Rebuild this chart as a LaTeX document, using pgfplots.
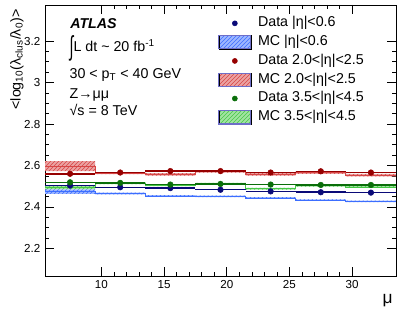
\documentclass[border=0pt]{standalone}
\usepackage{fontspec}
\setmainfont{Liberation Sans}
\usepackage{pgfplots}
\usepackage{pgfplotstable}
\pgfplotsset{compat=1.18}
\usepgfplotslibrary{fillbetween}
\usetikzlibrary{patterns}

\definecolor{datab}{RGB}{10,10,120}
\definecolor{datar}{RGB}{150,0,0}
\definecolor{datag}{RGB}{10,110,10}
\definecolor{mcb}{RGB}{60,110,255}
\definecolor{mcr}{RGB}{215,70,70}
\definecolor{mcg}{RGB}{70,200,70}
\definecolor{legbox}{RGB}{110,110,200}

% data: bin centre, mean
\pgfplotstableread{
x    y
7.5  2.503
11.5 2.495
15.5 2.491
19.5 2.483
23.5 2.475
27.5 2.471
31.5 2.469
}\dataB
\pgfplotstableread{
x    y
7.5  2.560
11.5 2.566
15.5 2.573
19.5 2.573
23.5 2.566
27.5 2.572
31.5 2.566
}\dataR
\pgfplotstableread{
x    y
7.5  2.519
11.5 2.516
15.5 2.508
19.5 2.511
23.5 2.508
27.5 2.506
31.5 2.506
}\dataG

% MC: lower bin edge, mean, error (last row closes the last bin)
\pgfplotstableread{
xlo  y     e
5.5  2.474 0.011
9.5  2.465 0.004
13.5 2.453 0.004
17.5 2.451 0.004
21.5 2.443 0.004
25.5 2.433 0.004
29.5 2.427 0.004
33.5 2.427 0.004
}\mcB
\pgfplotstableread{
xlo  y     e
5.5  2.597 0.024
9.5  2.563 0.005
13.5 2.557 0.006
17.5 2.571 0.005
21.5 2.557 0.006
25.5 2.566 0.006
29.5 2.554 0.006
33.5 2.554 0.006
}\mcR
\pgfplotstableread{
xlo  y     e
5.5  2.494 0.008
9.5  2.514 0.004
13.5 2.505 0.004
17.5 2.512 0.004
21.5 2.488 0.004
25.5 2.502 0.004
29.5 2.496 0.004
33.5 2.496 0.004
}\mcG

\pgfplotsset{
  mcband/.style={draw=none, fill=#1!50,
    postaction={pattern=north east lines, pattern color=#1}},
  datapts/.style={only marks, mark=*, mark size=2.1pt, color=#1,
    error bars/x dir=both, error bars/x fixed=2,
    error bars/error bar style={line width=1.1pt, color=#1},
    error bars/error mark=none},
}

\begin{document}
\begin{tikzpicture}
\begin{axis}[
  at={(33.75pt,36pt)}, anchor=south west,
  width=263.25pt, height=203.25pt, scale only axis,
  xmin=5.5, xmax=33.5, ymin=2.067, ymax=3.374,
  xtick={10,15,20,25,30}, ytick={2.2,2.4,2.6,2.8,3,3.2},
  minor x tick num=4, minor y tick num=3,
  major tick length=6.5pt, minor tick length=3.3pt,
  tick style={black, line width=0.5pt},
  axis line style={line width=0.6pt},
  ticklabel style={font=\fontsize{8.7}{10}\selectfont},
  /pgf/number format/assume math mode=true,
  legend style={at={(axis description cs:0.493,0.968)}, anchor=north west,
    draw=none, fill=none, inner sep=0pt, row sep=0pt, column sep=5pt,
    font=\fontsize{10.7}{12}\selectfont,
    nodes={inner sep=0pt, text height=9.6pt, text depth=4.5pt}},
  legend cell align=left,
]
\addlegendimage{legend image code/.code={\fill[datab] (12pt,0pt) circle (1.9pt);}}
\addlegendentry{Data |η|<0.6}
\addlegendimage{legend image code/.code={\fill[mcb!50] (0pt,-5pt) rectangle (24pt,5pt);
  \fill[pattern=north east lines, pattern color=mcb] (0pt,-5pt) rectangle (24pt,5pt);
  \draw[legbox, line width=0.8pt] (0pt,-5pt) rectangle (24pt,5pt);}}
\addlegendentry{MC |η|<0.6}
\addlegendimage{legend image code/.code={\fill[datar] (12pt,0pt) circle (1.9pt);}}
\addlegendentry{Data 2.0<|η|<2.5}
\addlegendimage{legend image code/.code={\fill[mcr!50] (0pt,-5pt) rectangle (24pt,5pt);
  \fill[pattern=north east lines, pattern color=mcr] (0pt,-5pt) rectangle (24pt,5pt);
  \draw[legbox, line width=0.8pt] (0pt,-5pt) rectangle (24pt,5pt);}}
\addlegendentry{MC 2.0<|η|<2.5}
\addlegendimage{legend image code/.code={\fill[datag] (12pt,0pt) circle (1.9pt);}}
\addlegendentry{Data 3.5<|η|<4.5}
\addlegendimage{legend image code/.code={\fill[mcg!50] (0pt,-5pt) rectangle (24pt,5pt);
  \fill[pattern=north east lines, pattern color=mcg] (0pt,-5pt) rectangle (24pt,5pt);
  \draw[legbox, line width=0.8pt] (0pt,-5pt) rectangle (24pt,5pt);}}
\addlegendentry{MC 3.5<|η|<4.5}

% MC bands
\addplot[name path=bu, draw=none, const plot, forget plot] table[x=xlo, y expr=\thisrow{y}+\thisrow{e}] {\mcB};
\addplot[name path=bl, draw=none, const plot, forget plot] table[x=xlo, y expr=\thisrow{y}-\thisrow{e}] {\mcB};
\addplot[mcband=mcb, forget plot] fill between[of=bu and bl];
\addplot[const plot, mcb, line width=0.6pt, forget plot] table[x=xlo, y=y] {\mcB};

\addplot[name path=ru, draw=none, const plot, forget plot] table[x=xlo, y expr=\thisrow{y}+\thisrow{e}] {\mcR};
\addplot[name path=rl, draw=none, const plot, forget plot] table[x=xlo, y expr=\thisrow{y}-\thisrow{e}] {\mcR};
\addplot[mcband=mcr, forget plot] fill between[of=ru and rl];
\addplot[const plot, mcr, line width=0.6pt, forget plot] table[x=xlo, y=y] {\mcR};

\addplot[name path=gu, draw=none, const plot, forget plot] table[x=xlo, y expr=\thisrow{y}+\thisrow{e}] {\mcG};
\addplot[name path=gl, draw=none, const plot, forget plot] table[x=xlo, y expr=\thisrow{y}-\thisrow{e}] {\mcG};
\addplot[mcband=mcg, forget plot] fill between[of=gu and gl];
\addplot[const plot, mcg, line width=0.6pt, forget plot] table[x=xlo, y=y] {\mcG};

% data
\addplot[forget plot, datapts=datab] table[x=x, y=y] {\dataB};
\addplot[forget plot, datapts=datar] table[x=x, y=y] {\dataR};
\addplot[forget plot, datapts=datag] table[x=x, y=y] {\dataG};
\end{axis}

\begin{scope}[font=\fontsize{10.7}{12}\selectfont]
\node[anchor=base west, inner sep=0pt] at (52.5pt,221.25pt) {\bfseries\itshape ATLAS};
\node[anchor=base west, inner sep=0pt] at (52pt,204.2pt) {\raisebox{-3pt}{\scalebox{1}[1.9]{∫}}L dt \textasciitilde{} 20 fb\textsuperscript{-1}};
\node[anchor=base west, inner sep=0pt] at (52pt,184.3pt) {30 < p\textsubscript{T} < 40 GeV};
\node[anchor=base west, inner sep=0pt] at (52pt,169.3pt) {Z→μμ};
\node[anchor=base west, inner sep=0pt] at (52pt,156pt) {√s = 8 TeV};
\node[anchor=base east, inner sep=0pt, rotate=90] at (15.4pt,236pt) {<log\textsubscript{10}(λ\textsubscript{clus}/λ\textsubscript{0})>};
\node[anchor=base east, inner sep=0pt, font=\fontsize{13}{14}\selectfont] at (294.75pt,15.2pt) {μ};
\end{scope}
\path (0,0) rectangle (308.25pt,243pt);
\end{tikzpicture}
\end{document}
